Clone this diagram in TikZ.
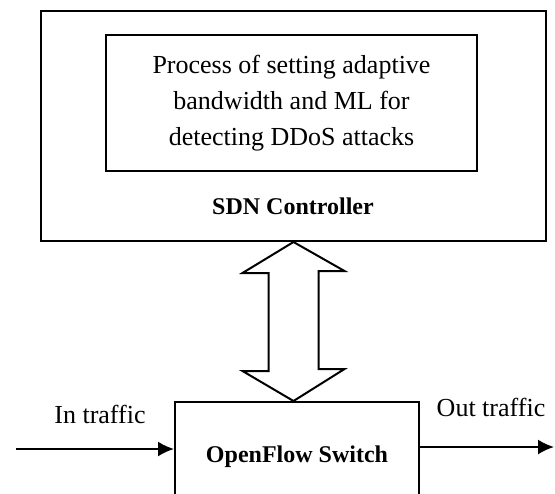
\documentclass[tikz,border=0pt]{standalone}
\usepackage{fontspec}
\setmainfont{Liberation Serif}
\usepackage{tikz}
\usetikzlibrary{arrows.meta,positioning,calc}

\begin{document}
\begin{tikzpicture}[x=0.5pt, y=-0.5pt, line width=1pt,
        box/.style={rectangle, draw, inner sep=0pt},
        plain text/.style={font=\fontsize{13pt}{18pt}\selectfont},
        bold text/.style={font=\fontsize{12pt}{16pt}\selectfont\bfseries},
        flow/.style={-{Latex[length=8pt,width=7.5pt]}}]
        \clip (0,0) rectangle (555,493);

        \node (ctrl) [box, minimum width=252.5pt, minimum height=115pt] at (293.5,126) {};
        \node (proc) [box, minimum width=185.5pt, minimum height=68pt, align=center, plain text] at (291.5,103) {Process of setting adaptive\\bandwidth and ML for\\detecting DDoS attacks};
        \node (ctrllbl) [bold text] at (293,206) {SDN Controller};

        \node (sw) [box, minimum width=122pt, minimum height=55pt, bold text] at (297,457) {OpenFlow Switch};

        % two-way block arrow between controller and switch
        \draw (ctrl.south) -- ++(-51,31) -- ++(26,0) -- ++(0,98) -- ++(-26,0) -- (ctrl.south |- sw.north) -- ++(51,-32) -- ++(-26,0) -- ++(0,-98) -- ++(26,0) -- cycle;

        \coordinate (inpt) at (16,449);
        \coordinate (outpt) at (554,447);
        \draw[flow] (inpt) -- (inpt -| sw.west);
        \draw[flow] (outpt -| sw.east) -- (outpt);
        \node (inlbl) [plain text, anchor=base] at (100,423) {In traffic};
        \node (outlbl) [plain text, anchor=base] at (491,416) {Out traffic};
    \end{tikzpicture}
\end{document}
